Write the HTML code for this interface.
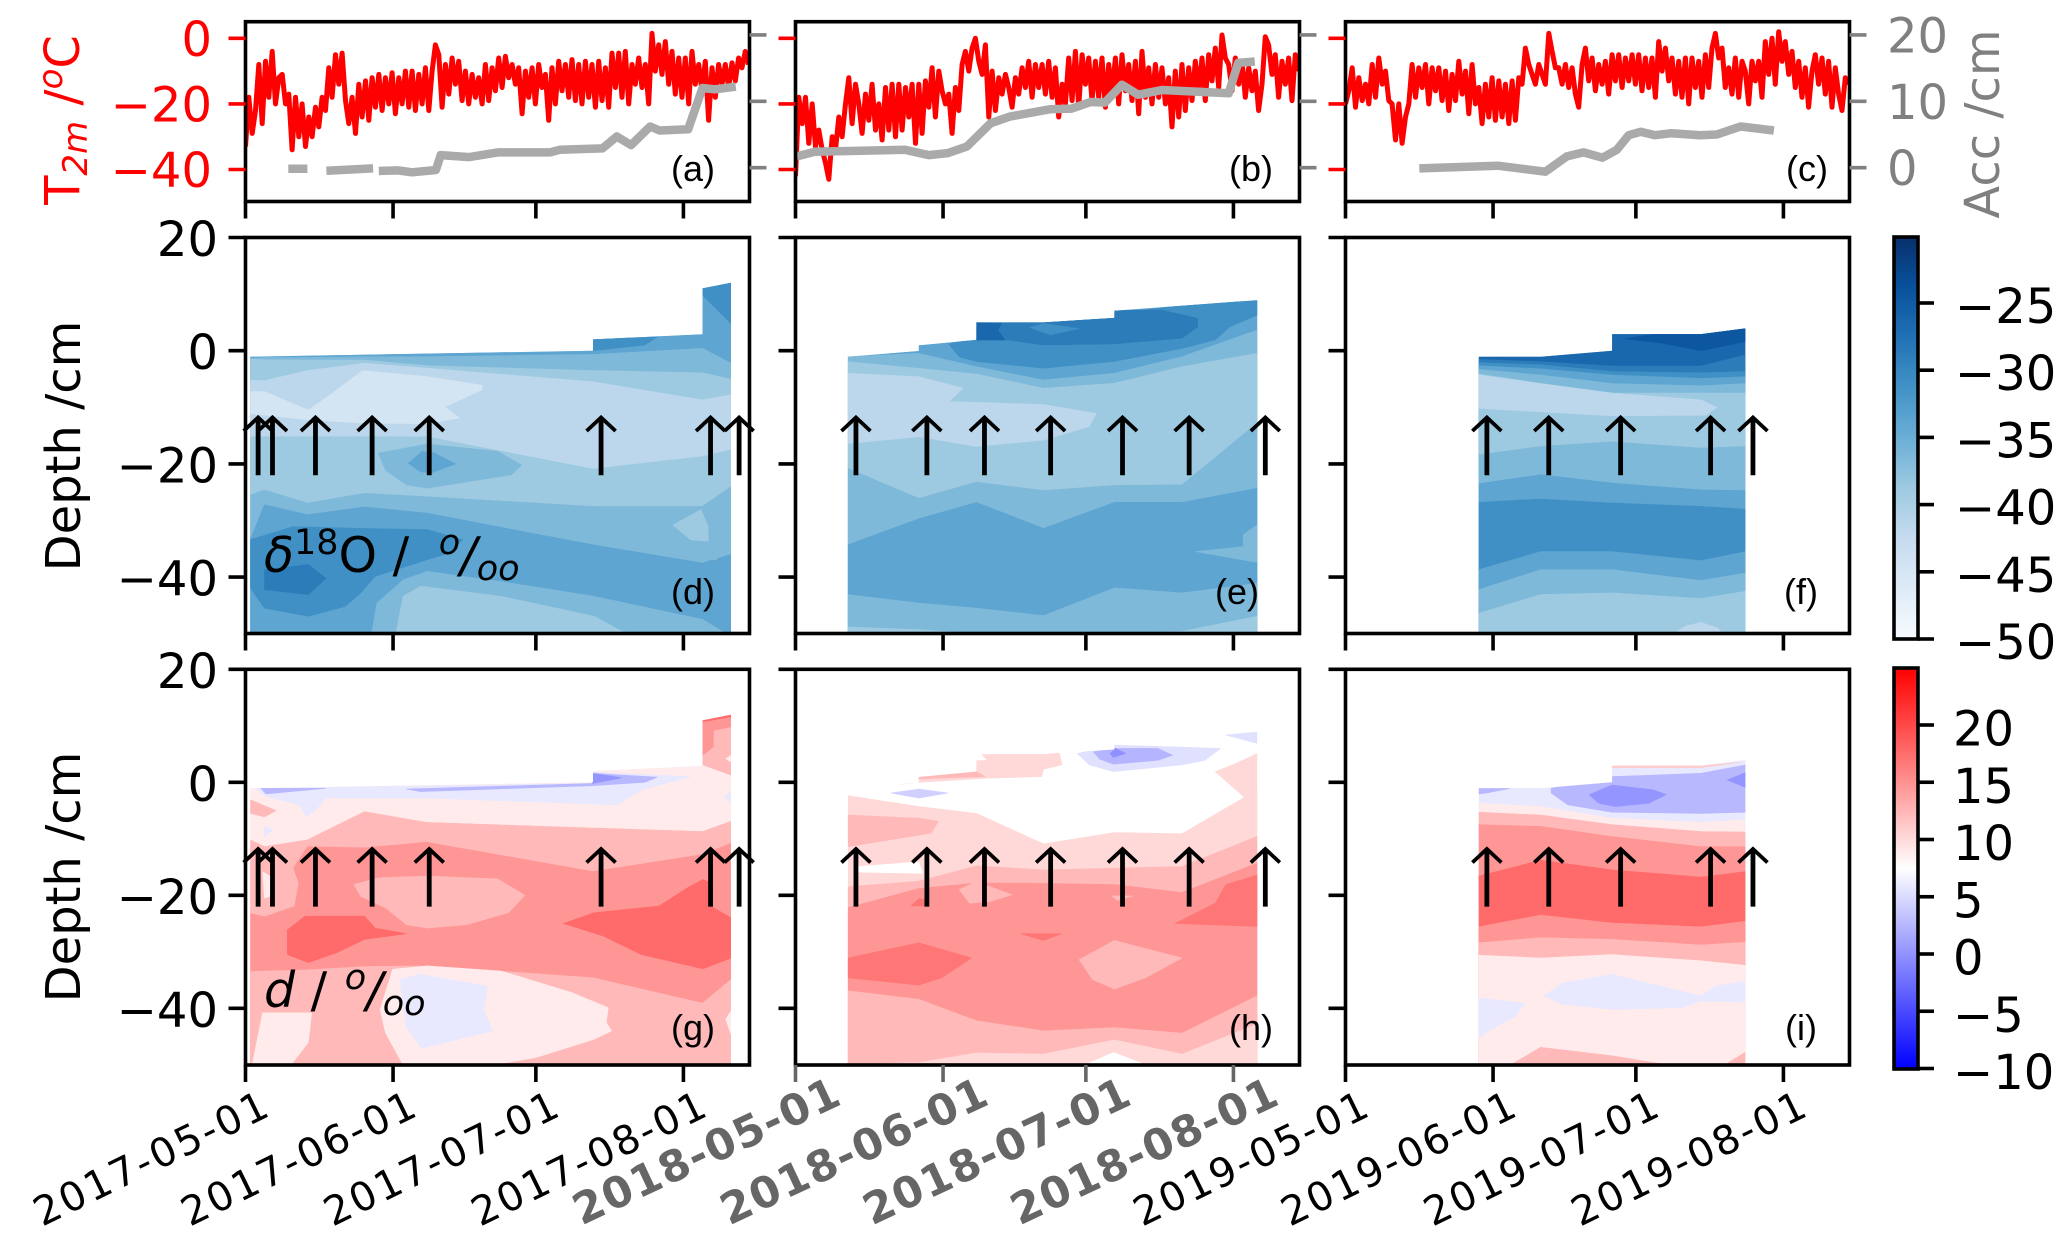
<!DOCTYPE html>
<html lang="en">
<head>
<meta charset="utf-8">
<title>Snow isotope time series</title>
<style>
html,body{margin:0;padding:0;background:#fff;}
svg{display:block;}
text{font-family:"DejaVu Sans",sans-serif;}
.plab{font-family:"Liberation Sans",sans-serif;font-size:36px;fill:#000;}
</style>
</head>
<body>
<svg id="fig" width="2067" height="1244" viewBox="0 0 2067 1244">
  <rect x="0" y="0" width="2067" height="1244" fill="#fff"/>
  <defs id="defs"></defs>
  <g id="marks"></g>
  <g id="furniture"></g>

  <text transform="translate(79,120) rotate(-90)" text-anchor="middle" font-size="48" fill="#ff0000">T<tspan font-style="italic" font-size="34" dy="8">2m</tspan><tspan dy="-8"> /</tspan><tspan font-style="italic" font-size="34" dy="-17">o</tspan><tspan dy="17">C</tspan></text>
  <text transform="translate(1999,124) rotate(-90)" text-anchor="middle" font-size="48" fill="#808080">Acc /cm</text>
  <text transform="translate(80,446) rotate(-90)" text-anchor="middle" font-size="48" fill="#000">Depth /cm</text>
  <text transform="translate(80,877) rotate(-90)" text-anchor="middle" font-size="48" fill="#000">Depth /cm</text>

  <text x="264" y="572" font-size="49" fill="#000"><tspan font-style="italic">δ</tspan><tspan font-size="35" dy="-18">18</tspan><tspan dy="18">O / </tspan><tspan font-style="italic" font-size="35" dy="-18" dx="14">o</tspan><tspan font-style="italic" dy="18">/</tspan><tspan font-style="italic" font-size="35" dy="8">oo</tspan></text>
  <text x="264" y="1007" font-size="49" fill="#000"><tspan font-style="italic">d</tspan> / <tspan font-style="italic" font-size="35" dy="-18" dx="2">o</tspan><tspan font-style="italic" dy="18">/</tspan><tspan font-style="italic" font-size="35" dy="8">oo</tspan></text>

  <text class="plab" x="671" y="181">(a)</text>
  <text class="plab" x="1229" y="181">(b)</text>
  <text class="plab" x="1786" y="181">(c)</text>
  <text class="plab" x="671" y="604">(d)</text>
  <text class="plab" x="1215" y="604">(e)</text>
  <text class="plab" x="1784" y="604">(f)</text>
  <text class="plab" x="671" y="1040">(g)</text>
  <text class="plab" x="1229" y="1040">(h)</text>
  <text class="plab" x="1785" y="1040">(i)</text>
</svg>

<script>
// ---------- Data: air temperature (degC), one value per tempDayStep days from 1 May ----------
const tempDayStep = 0.7;
const temp2017 = [
-33,-18,-29,-22,-8,-26,-7,-18,-4,-20,
-12,-11,-20,-17,-34,-18,-30,-20,-33,-24,
-30,-21,-27,-18,-22,-9,-18,-5,-14,-4.5,
-19,-26,-18,-29,-14,-24,-13,-25,-12,-21,
-11,-22,-12,-20,-10.5,-23,-12,-20,-10,-21,
-10,-22,-11,-20,-9,-22,-10,-2,-5,-21,
-8,-17,-6,-14,-7,-19,-10,-20,-11,-18,
-12,-20,-8,-19,-9,-16,-6,-15,-5.5,-12,
-8,-14,-9,-23,-10,-18,-9,-20,-8,-15,
-11,-25,-9,-20,-7,-16,-8,-18,-6.5,-19,
-8,-20,-7,-18,-8,-21,-7,-19,-9,-21,
-4.5,-15,-4.5,-18,-4,-20,-8,-14,-6,-15,
-8,-20,1.5,-10,-2,-11,-1,-14,-4,-17,
-6,-18,-6,-20,-4,-14,-8,-16,-7,-25,
-9,-18,-8,-14,-8,-15,-7.5,-13,-6,-9,-4,-8];
const temp2018 = [
-42,-18,-26,-18,-32,-20,-33,-28,-34,-38,
-43,-30,-34,-24,-30,-20,-12,-26,-14,-20,
-29,-17,-25,-14,-28,-20,-31,-15,-28,-14,
-30,-14,-28,-15,-24,-14,-32,-14,-29,-13,
-21,-9,-24,-10,-16,-20,-17,-29,-15,-22,
-8,-4,-10,-3,0,-7,-11,-2,-24,-10,
-22,-12,-17,-11,-15,-21,-12,-17,-9,-15,
-7,-18,-8,-15,-8,-17,-7,-18,-9,-24,
-14,-20,-6,-19,-4,-21,-5,-14,-6,-19,
-7,-18,-6,-21,-8,-17,-6,-20,-5,-16,
-8,-19,-7,-23,-4,-18,-9,-20,-8,-18,
-9,-20,-12,-27,-10,-24,-8,-22,-9,-19,
-7,-16,-6,-19,-5,-13,-3,-15,1,-6,
-8,-16,-6,-14,-7,-18,-9,-16,-10,-22,
-14,0.5,-2,-11,-5,-18,-7,-14,-6,-19,-5,-10];
const temp2019 = [
-20,-16,-9,-21,-12,-19,-14,-20,-8,-18,
-6,-14,-10,-19,-20,-31,-20,-32,-24,-20,
-8,-18,-9,-15,-8,-20,-9,-16,-9,-19,
-10,-22,-11,-19,-7,-17,-10,-23,-8,-20,
-15,-26,-14,-24,-12,-25,-13,-24,-14,-26,
-13,-25,-12,-14,-3,-8,-11,-14,-8,-11,
-14,1.5,-4,-9,-9,-14,-8,-15,-9,-17,
-21,-8,-3,-13,-6,-16,-8,-14,-7,-17,
-5,-13,-5,-15,-6,-13,-5,-14,-5,-16,
-6,-15,-6,-18,-1,-10,-3,-13,-6,-17,
-7,-18,-6,-20,-6,-15,-7,-18,-5,-15,
-3,1.5,-6,-3,-15,-9,-17,-6,-18,-7,
-10,-20,-7,-13,-7,-18,-1,-11,0,-14,
2,-7,-1,-11,-4,-15,-7,-18,-9,-21,
-10,-5,-14,-6,-17,-7,-21,-9,-17,-22,-12,-14];

// ---------- Data: snow accumulation (cm); null marks a gap ----------
const accDays2017 = [9,13,null,17,26.8,null,28,32,35,40,41,47,53,64,66,75,78,81,85,87,93,96,98.6,103];
const accVals2017 = [-.15,-.15,null,-.45,-.1,null,-.5,-.4,-.7,-.35,1.9,1.6,2.3,2.3,2.7,2.9,4.7,3.4,6.2,5.6,5.8,12,11.8,12.2];
const accDays2018 = [0.3,4,23,28,32,36,41,45,53.4,58,62,65,68.6,72,77,91,93,96.5];
const accVals2018 = [1.7,2.4,2.7,1.9,2.2,3.2,6.7,7.7,8.8,8.9,9.9,9.8,12.5,11,11.7,11.2,15.8,16];
const accDays2019 = [15.5,32,42,46.5,50,54,57,59.5,62,65,68.5,74.5,78,83,90];
const accVals2019 = [-.1,.3,-.6,1.7,2.3,1.5,2.7,4.9,5.4,4.9,5.2,4.9,5,6.2,5.6];

// ---------- Data: sampling campaigns (days since 1 May) ----------
const dates2017 = [1,4,13,25,38,73,96,102];
const dates2018 = [11,25.9,38,52.1,67,81.2,97];
const dates2019 = [28,41,56,74.7,84];
const arrows2017 = [2.65,5.67,14.7,26.6,38.6,74.7,97.7,103.7];
const arrows2018 = [12.7,27.6,39.7,53.6,68.7,82.7,98.7];
const arrows2019 = [29.7,42.7,57.8,76.7,85.6];
const arrowDepthTail = -22;
const arrowDepthTip = -11.8;

// ---------- Data: sampled snow-surface outline [day, depth cm] ----------
const outline2017 = [[1,-1.06],[73,0],[73,2],[96,2.9],[96,11],[102,12],[102,-50],[1,-50]];
const outline2018 = [[11,-1.06],[25.9,-.06],[25.9,.94],[38,1.9],[38,5],[52.1,5],[67,5.8],[67,7.06],[97,8.94],[97,-50],[11,-50]];
const outline2019 = [[28,-1.06],[41,-1.06],[56,0],[56,2.94],[74.7,2.94],[84,3.94],[84,-50],[28,-50]];

// ---------- Data: contour bands. "top" = band upper boundary depth at each sampling date,
//            "poly" = closed contour region [day, depth]; "v" = band value ----------
const bandsD18O2017 = [
{v:-33.8,poly:outline2017},
{v:-31,poly:[[96,11],[102,12],[102,4.8],[96,9.8]]},
{v:-31,poly:[[73,2],[86.9,2.65],[83.9,1],[73,0]]},
{v:-36.5,top:[-1.35,-1.18,-1.18,-1.06,-1.06,-.65,.4,-2.2]},
{v:-38.75,top:[-1.5,-1.6,-1.65,-1.65,-2.65,-3.5,-3.9,-5.05]},
{v:-41.6,top:[-5.2,-5.3,-3.5,-2.2,-3.1,-5.5,-8.7,-7.8]},
{v:-44.6,poly:[[1,-7.2],[4,-7.2],[13.2,-10.5],[18.3,-7.5],[24.6,-3.5],[38.2,-4.6],[49.7,-6.1],[49.7,-6.9],[41.9,-9.9],[44.9,-11.9],[38.2,-12.9],[24.6,-12.8],[13.2,-12.2],[1,-11.1]]},
{v:-38.75,top:[-15.2,-15.2,-15.2,-15.2,-15.2,-20.9,-18.7,-17.5]},
{v:-36.5,poly:[[27.9,-18.1],[38.2,-16.5],[53,-17.8],[58,-20.2],[55.9,-21.9],[38.2,-24.3],[33.8,-23.7],[29.4,-21.1]]},
{v:-33.8,poly:[[34.2,-19.9],[37.1,-17.8],[39.7,-18.1],[44.1,-20],[39,-21.6],[36.8,-21.4]]},
{v:-36.5,top:[-25.5,-24.6,-26.9,-25.2,-25.8,-27.5,-27.5,-24]},
{v:-33.8,top:[-33.4,-27.2,-29,-27.6,-28.7,-34.3,-37.5,-36]},
{v:-36.5,poly:[[86,-30],[95.7,-27.5],[99,-31],[99,-37],[92,-36.5]]},
{v:-38.75,poly:[[89.8,-30.8],[95.7,-28.1],[97.2,-31.1],[97.2,-33.7],[93.5,-33.4]]},
{v:-31,poly:[[1,-33.4],[9.9,-31.1],[24.6,-31.4],[38.2,-31.6],[45.6,-33.4],[42.7,-35.8],[38.2,-36.9],[27.2,-39.9],[24.2,-42.8],[20.9,-45.2],[13.2,-46.9],[4,-45.5],[1,-41.9]]},
{v:-28.7,poly:[[4,-38.7],[13.2,-37.8],[16.9,-40.2],[13.2,-43.1],[4,-42.2]]},
{v:-36.5,poly:[[26.5,-50],[27.6,-44.6],[33.1,-40.5],[38.2,-39],[53.7,-40.8],[73.2,-43.4],[96.1,-47.5],[100.9,-50]]},
{v:-38.75,poly:[[31.6,-50],[33.1,-43.4],[36.8,-41.6],[53.7,-43.4],[73.2,-46.9],[78.4,-49.3],[80.2,-50]]}
];
const bandsD18O2018 = [
{v:-33.8,poly:outline2018},
{v:-31,poly:[[32.2,1.2],[38.1,2.2],[67,6.6],[85.3,8.4],[97,8.8],[97,6.3],[91.2,4.2],[88.2,1.9],[81.2,.4],[66.8,-1.9],[52.1,-3.1],[38,-1.9],[34.4,-1.1]]},
{v:-28.7,poly:[[38,5],[52.1,5],[67,5.8],[67,7.1],[76.8,7.2],[84.5,5.7],[84.5,4.2],[81.2,2.2],[66.8,1.2],[52.1,1],[44.7,1.9],[38,1.9]]},
{v:-26.3,poly:[[38,5],[43.3,4.8],[42.5,3.6],[44,1.9],[38,1.9]]},
{v:-31,poly:[[49.2,4.1],[52.1,4.8],[59.5,3.9],[53.6,2.8]]},
{v:-36.5,top:[-1.06,-.47,-2.82,-5.18,-4,-1.06,3.65]},
{v:-38.75,top:[-1.94,-3.12,-4.12,-6.65,-5.76,-2.82,-.47]},
{v:-41.6,poly:[[11,-4],[25.9,-4.6],[35.2,-6.6],[32.2,-9],[52.1,-9.5],[63.2,-11.1],[61.7,-13.4],[52.1,-15.8],[38,-16.9],[25.9,-15.2],[11,-16.4]]},
{v:-36.5,top:[-20.8,-26.1,-23.2,-24.7,-23.8,-23.7,-12.8]},
{v:-33.8,top:[-34.3,-29.7,-26.8,-31.4,-26.8,-26.8,-24.3]},
{v:-36.5,poly:[[84.1,-35.5],[94.1,-34.6],[94.1,-32.5],[97,-30.8],[97,-37.4]]},
{v:-36.5,top:[-43.1,-44.6,-45.5,-46.8,-41.9,-42.8,-41.1]},
{v:-38.75,top:[-48.8,-49.3,-50,-50,-50,-49.6,-46.9]}
];
const bandsD18O2019 = [
{v:-26.3,poly:outline2019},
{v:-24.5,poly:[[58.7,2.1],[64.7,2.94],[74.7,2.94],[84,3.94],[84,1.6],[74.7,0],[66.7,1.3]]},
{v:-28.7,top:[-1.53,-1.94,-2.7,-2.7,-.76]},
{v:-31,top:[-2.1,-2.5,-3.7,-3.9,-3.7]},
{v:-33.8,top:[-2.65,-3.2,-4.3,-4.9,-4.6]},
{v:-36.5,top:[-3.3,-4.3,-5.8,-6.2,-5.8]},
{v:-38.75,top:[-4.1,-5.8,-7.5,-7.5,-7.5]},
{v:-41.6,poly:[[28,-4.3],[41,-5.8],[56,-7.5],[74.7,-8.7],[78,-10],[75.7,-11.4],[56,-11.5],[41,-10.8],[28,-10.2]]},
{v:-36.5,top:[-18.4,-16.9,-16.1,-17.2,-16.9]},
{v:-33.8,top:[-23.5,-21.9,-23.4,-24.6,-24.7]},
{v:-31,top:[-26.8,-26.2,-26.9,-27.5,-28]},
{v:-33.8,top:[-38.7,-35.5,-35.5,-37.1,-35.5]},
{v:-36.5,top:[-42.2,-38.7,-38.7,-40.6,-39.3]},
{v:-38.75,top:[-46.4,-43.1,-42.8,-43.8,-42.5]},
{v:-41.6,poly:[[68.7,-50],[71.7,-48.6],[74.7,-48],[78.2,-49],[79.2,-50]]}
];
const bandsDx2017 = [
{v:8.9,poly:outline2017},
{v:5.9,poly:[[2.1,-1.06],[72.9,-.2],[72.9,1.8],[86.1,1.3],[93.5,1],[83.2,-1.35],[78,-4],[68.5,-3.7],[38.2,-2.8],[16.9,-2.8],[14.7,-4.9],[12.8,-6.1],[11.3,-4],[4.3,-2.5]]},
{v:2.6,poly:[[3.2,-1.06],[16.9,-1.06],[4.3,-2.06]]},
{v:2.6,poly:[[33.8,-1.2],[72.9,-.2],[72.9,1.6],[86.5,.9],[83.9,0],[72.9,-.6],[36.8,-1.65]]},
{v:.2,poly:[[72.9,1.6],[79.1,.8],[72.9,-.2]]},
{v:12.3,poly:[[96,10.9],[102,11.9],[102,1.3],[96,3.1]]},
{v:14.7,poly:[[96,10.7],[102,11.8],[102,9.8],[98.3,9.2],[98.3,6.3],[96,4.8]]},
{v:17.7,poly:[[96,10.9],[102,11.9],[102,11.6],[96,10.7]]},
{v:8.9,poly:[[100.9,4.2],[102,4.8],[102,3.6]]},
{v:5.9,poly:[[102,-1.65],[100.7,-2.5],[102,-3.8]]},
{v:12.3,poly:[[1,-3.1],[6.4,-5],[4,-6.1],[1,-5.5]]},
{v:5.9,poly:[[4,-7.8],[5.8,-8.4],[4,-9.6]]},
{v:12.3,top:[-10.2,-11.4,-10.2,-5.2,-7.1,-8.1,-8.7,-6.9]},
{v:14.7,top:[-23.1,-23.1,-11.4,-11.6,-10.6,-15.8,-12.8,-10.8]},
{v:12.3,poly:[[1,-11.4],[8.8,-12.5],[11.1,-17.8],[10.2,-21.9],[4,-23.7],[1,-23.1]]},
{v:8.9,poly:[[3.6,-15.8],[5.1,-16.6],[5.1,-20.2],[4,-20.5]]},
{v:12.3,poly:[[22.8,-18.1],[27.9,-16.9],[38.2,-16.6],[53,-17.1],[58.7,-20],[55.2,-23.1],[46.4,-25.2],[38.2,-25.8],[33.8,-25.2],[29.4,-22.2],[24.2,-20.2]]},
{v:17.7,poly:[[8.8,-26.1],[12.5,-23.7],[25,-23.7],[27.2,-25.8],[33.8,-26.8],[25,-27.8],[19.1,-30.2],[13.2,-31.9],[8.8,-30.5]]},
{v:17.7,poly:[[66.8,-25],[73.2,-23.1],[86.9,-21.9],[92.8,-18.7],[96.1,-17.2],[97.7,-17.8],[97.7,-21.9],[102,-24],[102,-31.1],[96.1,-33],[83.2,-30.5],[75.1,-27.2]]},
{v:12.3,top:[-33.5,-33.4,-33.2,-32.6,-32.5,-34.6,-39.1,-34.9]},
{v:8.9,poly:[[28.3,-40.2],[30.9,-33.1],[38.2,-32.5],[53.7,-33.4],[68.5,-37.2],[76.2,-39.9],[75.8,-42.5],[76.9,-44],[73.2,-45.5],[61.1,-48.7],[52.2,-50],[33.1,-50],[29.4,-44.3]]},
{v:5.9,poly:[[32.4,-34.9],[36.8,-34],[50.8,-36.1],[50,-40.2],[51.9,-44],[37.1,-47.1],[33.8,-43.4]]},
{v:8.9,poly:[[1.4,-50],[3.6,-40.8],[13.9,-40.8],[13.2,-46],[10.2,-49.3],[9.5,-50]]},
{v:8.9,poly:[[102,-40.5],[100.9,-41.9],[102,-44.6]]}
];
const bandsDx2018 = [
{v:7.5,poly:outline2018},
{v:10.2,poly:[[21.9,-.35],[25.9,1],[38,2.2],[38,3.8],[40.3,3.9],[39.2,4.9],[55.4,5.2],[56,3.1],[52.1,2.3],[51.7,1],[39.9,.7],[25.9,0]]},
{v:12.3,poly:[[25.9,.9],[38,1.9],[39.9,1],[25.9,.6]]},
{v:5.4,poly:[[59.2,5.1],[67,6.6],[89.3,6],[86,3.9],[81.2,3.1],[66.8,1.9],[61.7,3.1]]},
{v:2.4,poly:[[62.6,5.4],[67,6],[76.1,6],[79.2,4.8],[76.1,3.9],[66.8,3.2],[63.9,4.1]]},
{v:-.1,poly:[[66.1,5.1],[67.2,6],[69.4,5.1],[66.8,4.4]]},
{v:5.4,poly:[[90.4,8.35],[97,8.9],[97,6.9]]},
{v:4.3,poly:[[20,-1.9],[25.9,-1.2],[32.1,-1.9],[25.9,-2.8]]},
{v:10.2,top:[-2.35,-4.3,-5.5,-10.9,-8.9,-9.1,-1.35]},
{v:10.2,poly:[[97,5.1],[91.9,3.1],[88.2,1.9],[94.8,-3],[88.6,-6.9],[81.2,-9.1],[97,-9.1]]},
{v:12.3,poly:[[11,-5.8],[25.9,-6.35],[30,-6.9],[28.5,-9],[11,-11.4]]},
{v:7.5,poly:[[13,-14.9],[25.9,-14.1],[26.7,-16.1],[13,-15.9]]},
{v:12.3,top:[-18.5,-17.5,-14.8,-15.5,-15.2,-14.9,-9.6]},
{v:14.7,top:[-22.2,-18.8,-17.8,-17.9,-18.1,-19.5,-14.3]},
{v:12.3,poly:[[34.4,-19],[38,-17.6],[45.5,-19.9],[41,-21.1],[36.6,-21.4]]},
{v:12.3,poly:[[66.5,-20.1],[70.9,-20.1],[67.6,-20.9]]},
{v:16.9,poly:[[79.7,-25],[88.2,-21.4],[90.4,-18.1],[97,-16.4],[97,-25.5]]},
{v:16.9,poly:[[24.2,-21.9],[25.9,-20.6],[27.6,-20.8],[27.6,-21.9]]},
{v:16.9,poly:[[47.3,-26.8],[55.8,-26.8],[52.1,-28]]},
{v:16.9,poly:[[11,-31.1],[25.9,-28.4],[37,-31.1],[30.7,-34.6],[25.9,-35.9],[11,-34.6]]},
{v:12.3,poly:[[59.6,-31.4],[67,-28],[81.2,-31.1],[73.5,-34.6],[67,-36.6],[62.4,-34.9]]},
{v:12.3,top:[-36.9,-38.4,-42.2,-44,-43.4,-44.4,-37.8]},
{v:10.2,top:[-50,-49.6,-47.9,-48.1,-45.6,-48.1,-42.8]},
{v:7.5,poly:[[60.9,-50],[66.8,-47.8],[73.5,-50]]}
];
const bandsDx2019 = [
{v:5.9,poly:outline2019},
{v:11,poly:[[56,2.94],[74.7,2.94],[82.7,3.5],[74.7,2.6],[56,2.6]]},
{v:2.6,poly:[[28,-1.06],[34.7,-1.06],[29.7,-1.9],[28,-2.06]]},
{v:2.6,poly:[[43.2,-1.06],[56,1],[74.7,1.6],[84,3.06],[84,-5.3],[74.7,-5.5],[56,-5.3],[46.7,-4],[43.2,-1.9]]},
{v:.2,poly:[[51.2,-2.2],[56,-.5],[64.7,-1.35],[67.4,-2.2],[63.7,-3.7],[56.7,-4.3],[53.2,-3.7]]},
{v:.2,poly:[[80.2,.4],[84,1.7],[84,-.9]]},
{v:8.9,top:[-3.7,-4.3,-6.35,-7.1,-6.65]},
{v:12.3,top:[-5.3,-5.8,-7.5,-8.7,-8.8]},
{v:14.7,top:[-7.5,-7.8,-9.6,-11.4,-11.4]},
{v:17.7,top:[-16.6,-13.8,-15.5,-16.8,-15.8]},
{v:14.7,top:[-25.6,-23.5,-24.9,-25.6,-24.6]},
{v:12.3,top:[-28.4,-27.5,-27.8,-28.8,-28.3]},
{v:8.9,top:[-30.6,-31.1,-30.5,-31.6,-32.4]},
{v:5.9,poly:[[41.7,-37.8],[45.7,-35.5],[56,-34],[74.7,-37.8],[77.7,-36.1],[84,-35.2],[84,-38.9],[74.7,-38.7],[70.7,-39.9],[56,-40.2],[45.7,-39.3]]},
{v:5.9,poly:[[28,-38.2],[37.7,-39.1],[35.7,-41.4],[30.7,-43.7],[28,-45.2]]},
{v:12.3,poly:[[34.7,-50],[41,-46.9],[56,-48.4],[67.7,-50]]},
{v:12.3,poly:[[79.7,-50],[84,-47.8],[84,-50]]}
];

// ---------- Data: axis ticks ----------
const monthTickDays = [0,31,61,92];
const monthTickText = ['05-01','06-01','07-01','08-01'];
const years = ['2017','2018','2019'];
const tempTicks = [0,-20,-40];
const accTicks = [0,10,20];
const depthTicks = [20,0,-20,-40];
const cbarBluesTicks = [-25,-30,-35,-40,-45,-50];
const cbarRedBlueTicks = [20,15,10,5,0,-5,-10];
// Colormap anchors (value, r, g, b)
const bluesAnchors = [[-50,247,251,255],[-46.25,222,235,247],[-42.5,198,219,239],[-38.75,158,202,225],[-35,107,174,214],[-31.25,66,146,198],[-27.5,33,113,181],[-23.75,8,81,156],[-20,8,48,107]];

// ---------- Axis functions ----------
const colLeft = [245.5,795.5,1345.5];
const pxPerDay = 4.76;
const axisWidth = 504;
const topRow = {y0:21.7,y1:201.5};
const midRow = {y0:237.5,y1:633.5};
const lowRow = {y0:669.3,y1:1065};
const xDay = (c,d)=>colLeft[c]+d*pxPerDay;
const yTemp = v=>38.3-v*3.28;
const yAcc = v=>167.7-v*6.64;
const yMid = z=>350.7-z*5.66;
const yLow = z=>782.3-z*5.65;
const yBlues = v=>303-(v+25)*13.44;
const yRedBlue = v=>954-v*11.45;

function colorBlues(v){
  const a=bluesAnchors;
  if(v<=a[0][0])return `rgb(${a[0][1]},${a[0][2]},${a[0][3]})`;
  for(let i=1;i<a.length;i++){
    if(v<=a[i][0]){
      const t=(v-a[i-1][0])/(a[i][0]-a[i-1][0]);
      const m=k=>Math.round(a[i-1][k]+(a[i][k]-a[i-1][k])*t);
      return `rgb(${m(1)},${m(2)},${m(3)})`;
    }
  }
  const l=a[a.length-1];
  return `rgb(${l[1]},${l[2]},${l[3]})`;
}
function colorRedBlue(v){
  if(v<7.5){const g=Math.round(255*Math.max(0,(v+10)/17.5));return `rgb(${g},${g},255)`;}
  const g=Math.round(255*Math.max(0,(25-v)/17.5));
  return `rgb(255,${g},${g})`;
}

const svg=document.getElementById('fig');
const NS=svg.namespaceURI;
const defs=document.getElementById('defs');
const marks=document.getElementById('marks');
const furn=document.getElementById('furniture');
function mk(tag,parent,attrs){
  const e=document.createElementNS(NS,tag);
  for(const k in attrs)e.setAttribute(k,attrs[k]);
  parent.appendChild(e);
  return e;
}
function addClip(id,points){
  const c=mk('clipPath',defs,{id:id});
  mk('polygon',c,{points:points});
}
const ptStr=(pts,fx,fy)=>pts.map(p=>fx(p[0]).toFixed(1)+','+fy(p[1]).toFixed(1)).join(' ');

// ---------- Top row: temperature and accumulation ----------
const tempSeries=[temp2017,temp2018,temp2019];
const accDays=[accDays2017,accDays2018,accDays2019];
const accVals=[accVals2017,accVals2018,accVals2019];
tempSeries.forEach((series,c)=>{
  const L=colLeft[c];
  addClip('clipTop'+c,`${L},${topRow.y0} ${L+axisWidth},${topRow.y0} ${L+axisWidth},${topRow.y1} ${L},${topRow.y1}`);
  const pts=series.map((v,i)=>xDay(c,i*tempDayStep).toFixed(1)+','+yTemp(v).toFixed(1)).join(' ');
  const line=mk('polyline',marks,{points:pts,fill:'none',stroke:'#ff0000','stroke-width':5,'stroke-linejoin':'round','clip-path':`url(#clipTop${c})`});
  
  

  let seg=[];
  const flush=()=>{
    if(seg.length>1){
      const acc=mk('polyline',marks,{points:seg.join(' '),fill:'none',stroke:'#aaaaaa','stroke-width':8.5,'stroke-linejoin':'round'});
      
      
    }
    seg=[];
  };
  accDays[c].forEach((d,i)=>{
    if(d===null||accVals[c][i]===null){flush();return;}
    seg.push(xDay(c,d).toFixed(1)+','+yAcc(accVals[c][i]).toFixed(1));
  });
  flush();
});

// ---------- Contour panels ----------
const dateSets=[dates2017,dates2018,dates2019];
const outlines=[outline2017,outline2018,outline2019];
const arrowSets=[arrows2017,arrows2018,arrows2019];
const midBands=[bandsD18O2017,bandsD18O2018,bandsD18O2019];
const lowBands=[bandsDx2017,bandsDx2018,bandsDx2019];
function drawField(c,rowKey,bands,yFn,colorFn){
  const fx=d=>xDay(c,d);
  const id='clipField'+rowKey+c;
  addClip(id,ptStr(outlines[c],fx,yFn));
  const g=mk('g',marks,{'clip-path':`url(#${id})`});
  
  
  const dates=dateSets[c];
  bands.forEach(b=>{
    let pts;
    if(b.top){
      const t=b.top.map((z,i)=>[dates[i],z]);
      pts=t.concat([[dates[dates.length-1],-51],[dates[0],-51]]);
    }else{
      pts=b.poly;
    }
    const col=colorFn(b.v);
    const band=mk('polygon',g,{points:ptStr(pts,fx,yFn),fill:col,stroke:col,'stroke-width':0.6});
    
    
  });
  arrowSets[c].forEach(d=>{
    const ax=fx(d),tip=yFn(arrowDepthTip),tail=yFn(arrowDepthTail);
    const arrowGroup=mk('g',marks,{fill:'none',stroke:'#000'});
    
    
    mk('line',arrowGroup,{x1:ax,x2:ax,y1:tail,y2:tip,'stroke-width':4.8});
    mk('polyline',arrowGroup,{points:`${ax-14.5},${tip+13.5} ${ax},${tip} ${ax+14.5},${tip+13.5}`,'stroke-width':3.8});
  });
}
for(let c=0;c<3;c++){
  drawField(c,'mid',midBands[c],yMid,colorBlues);
  drawField(c,'low',lowBands[c],yLow,colorRedBlue);
}

// ---------- Axes furniture ----------
const FS=48;
function spine(c,row){
  const r=mk('rect',furn,{x:colLeft[c],y:row.y0,width:axisWidth,height:row.y1-row.y0,fill:'none',stroke:'#000','stroke-width':3.6});
  
  
}
function tick(x1,y1,x2,y2,col){
  const t=mk('line',furn,{x1:x1,y1:y1,x2:x2,y2:y2,stroke:col,'stroke-width':3.6});
  
  
}
function fmt(v){return (v<0?'\u2212':'')+Math.abs(v);}
function label(str,x,y,anchor,col){
  const t=mk('text',furn,{x:x,y:y,'text-anchor':anchor,'font-size':FS,fill:col});
  t.textContent=str;
  
  
  return t;
}
for(let c=0;c<3;c++){
  const L=colLeft[c],R=L+axisWidth;
  spine(c,topRow);
  spine(c,midRow);
  spine(c,lowRow);
  tempTicks.forEach(v=>{
    tick(L-17,yTemp(v),L,yTemp(v),'#ff0000');
    if(c===0)label(fmt(v),212,yTemp(v)+17.5,'end','#ff0000');
  });
  accTicks.forEach(v=>{
    tick(R,yAcc(v),R+17,yAcc(v),'#808080');
    if(c===2)label(fmt(v),1887,yAcc(v)+17.5,'start','#808080');
  });
  depthTicks.forEach(z=>{
    tick(L-17,yMid(z),L,yMid(z),'#000');
    tick(L-17,yLow(z),L,yLow(z),'#000');
    if(c===0){
      label(fmt(z),218,yMid(z)+18.5,'end','#000');
      label(fmt(z),218,yLow(z)+18.5,'end','#000');
    }
  });
  const bold=c===1;
  monthTickDays.forEach((d,i)=>{
    const x=xDay(c,d);
    tick(x,topRow.y1,x,topRow.y1+17,'#000');
    tick(x,midRow.y1,x,midRow.y1+17,'#000');
    tick(x,lowRow.y1,x,lowRow.y1+17,bold?'#666666':'#000');
    const px=x+(bold?49:28),py=bold?1103:1114,ang=bold?25:26;
    const t=mk('text',furn,{'text-anchor':'end','font-size':bold?43:40,'letter-spacing':bold?1.5:2.5,'font-weight':bold?'bold':'normal',fill:bold?'#666666':'#000',transform:`translate(${px.toFixed(1)},${py}) rotate(-${ang})`});
    t.textContent=years[c]+'-'+monthTickText[i];
    
    
  });
}

// ---------- Colour bars ----------
const cbX=1894,cbW=24;
function gradient(id,lo,hi,stops,colorFn){
  const g=mk('linearGradient',defs,{id:id,x1:0,y1:1,x2:0,y2:0});
  stops.forEach(v=>mk('stop',g,{offset:(v-lo)/(hi-lo),'stop-color':colorFn(v)}));
}
gradient('gradBlues',-50,-20,bluesAnchors.map(a=>a[0]),colorBlues);
gradient('gradRedBlue',-10,25,[-10,7.5,25],colorRedBlue);
const cb1=mk('rect',furn,{x:cbX,y:237,width:cbW,height:402,fill:'url(#gradBlues)',stroke:'#000','stroke-width':3.6});


const cb2=mk('rect',furn,{x:cbX,y:668,width:cbW,height:401,fill:'url(#gradRedBlue)',stroke:'#000','stroke-width':3.6});


cbarBluesTicks.forEach(v=>{
  tick(cbX+cbW,yBlues(v),cbX+cbW+16,yBlues(v),'#000');
  label(fmt(v),1955,yBlues(v)+20,'start','#000');
});
cbarRedBlueTicks.forEach(v=>{
  tick(cbX+cbW,yRedBlue(v),cbX+cbW+16,yRedBlue(v),'#000');
  label(fmt(v),1953,yRedBlue(v)+20.5,'start','#000');
});
</script>
</body>
</html>
